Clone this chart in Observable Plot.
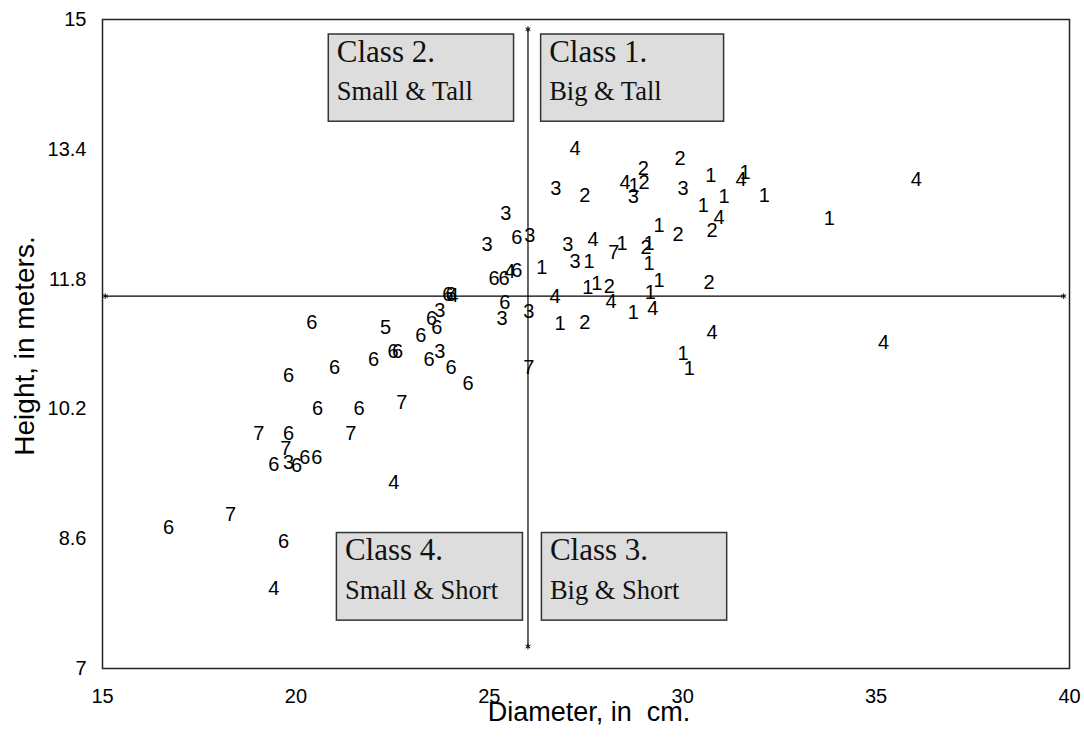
<!DOCTYPE html>
<html>
<head>
<meta charset="utf-8">
<script src="https://cdn.jsdelivr.net/npm/d3@7"></script>
<script src="https://cdn.jsdelivr.net/npm/@observablehq/plot@0.6"></script>
<style>
  html, body { margin: 0; padding: 0; background: #fff; }
  #chart { width: 1084px; height: 742px; }
</style>
</head>
<body>
<div id="chart"></div>
<script>
// Tree class label of each point
const classes = [4,2,2,1,1,4,4,3,2,4,1,2,3,3,1,1,1,1,4,2,1,2,3,6,3,3,3,4,7,1,2,1,3,1,1,1,6,6,4,6,1,2,1,1,2,4,1,4,6,3,3,1,4,1,2,7,4,4,1,1,
  6,6,4,6,5,3,6,6,6,6,6,6,6,3,6,6,6,6,7,6,6,7,6,7,7,6,3,6,6,6,4,7,6,6,4];
// Diameter, cm
const diameters = [27.22,29.93,28.98,30.73,31.61,31.51,36.04,26.72,27.47,28.51,28.74,29.00,28.72,30.01,30.53,31.07,32.11,33.79,30.94,30.76,29.39,29.88,25.43,25.71,26.05,24.94,27.03,27.68,28.22,28.43,29.05,29.13,27.22,27.58,29.13,26.36,25.12,25.38,25.53,25.71,29.39,30.68,27.55,27.78,28.10,26.70,29.16,28.15,25.40,26.02,25.33,28.72,29.23,26.83,27.47,26.02,30.76,35.19,30.01,30.17,
  23.93,24.01,24.06,20.41,22.32,23.72,23.51,23.64,23.23,22.51,22.63,22.01,23.44,23.72,24.01,24.45,21.00,19.81,22.74,20.56,21.63,19.04,19.81,21.42,19.74,19.43,19.81,20.02,20.23,20.54,22.53,18.31,16.71,19.68,19.43];
// Height, m
const heights = [13.41,13.29,13.16,13.08,13.11,13.03,13.03,12.92,12.83,12.99,12.95,12.99,12.82,12.92,12.71,12.82,12.83,12.55,12.56,12.40,12.46,12.35,12.61,12.31,12.34,12.23,12.23,12.29,12.13,12.24,12.19,12.24,12.02,12.02,11.99,11.94,11.81,11.81,11.89,11.91,11.78,11.76,11.70,11.74,11.71,11.58,11.63,11.52,11.51,11.40,11.31,11.39,11.44,11.25,11.26,10.71,11.14,11.02,10.88,10.70,
  11.61,11.61,11.60,11.26,11.20,11.41,11.31,11.20,11.10,10.91,10.91,10.81,10.81,10.91,10.71,10.51,10.71,10.61,10.28,10.20,10.20,9.90,9.90,9.90,9.71,9.51,9.54,9.50,9.60,9.60,9.29,8.90,8.74,8.56,7.98];

// Axis ticks
const xTicks = [15, 20, 25, 30, 35, 40];
const yTicks = [7, 8.6, 10.2, 11.8, 13.4, 15];

// Quadrant dividers (data units)
const heightCut = 11.59;
const heightCutSpan = [15.07, 39.85];
const diameterCut = 26.0;
const diameterCutSpan = [7.27, 14.88];

// Class boxes (data units)
const boxNames = ["Class 2.", "Class 1.", "Class 4.", "Class 3."];
const boxDescs = ["Small & Tall", "Big & Tall", "Small & Short", "Big & Short"];
const boxX1 = [20.85, 26.34, 21.06, 26.36];
const boxX2 = [25.64, 31.07, 25.87, 31.15];
const boxY1 = [13.74, 13.74, 7.59, 7.59];
const boxY2 = [14.815, 14.815, 8.67, 8.67];

const idx = d3.range(classes.length);
const bIdx = d3.range(boxNames.length);
const hLine = heightCutSpan.map(x => ({x, y: heightCut}));
const vLine = diameterCutSpan.map(y => ({x: diameterCut, y}));

const chart = Plot.plot({
  width: 1084,
  height: 742,
  marginLeft: 102,
  marginRight: 15,
  marginTop: 19,
  marginBottom: 74,
  style: {fontFamily: "'Liberation Sans', Arial, sans-serif", fontSize: "20px", color: "#000", background: "#fff"},
  x: {domain: [15, 40]},
  y: {domain: [7, 15]},
  marks: [
    Plot.axisX({ticks: xTicks, tickSize: 0, tickPadding: 20, label: null, fontSize: 20, tickFormat: d => String(d)}),
    Plot.axisY({ticks: yTicks, tickSize: 0, tickPadding: 16, label: null, fontSize: 20, tickFormat: d => String(d)}),
    Plot.frame({stroke: "#222", strokeWidth: 1.5}),
    Plot.line(hLine, {x: "x", y: "y", stroke: "#000", strokeWidth: 1.2}),
    Plot.line(vLine, {x: "x", y: "y", stroke: "#000", strokeWidth: 1.2}),
    Plot.dot([...hLine, ...vLine], {x: "x", y: "y", symbol: "asterisk", r: 2.6, stroke: "#000", strokeWidth: 1}),
    Plot.rect(bIdx, {x1: i => boxX1[i], x2: i => boxX2[i], y1: i => boxY1[i], y2: i => boxY2[i], fill: "#dddddd", stroke: "#333", strokeWidth: 1.5}),
    Plot.text(bIdx, {x: i => boxX1[i], y: i => boxY2[i], text: i => boxNames[i], textAnchor: "start", lineAnchor: "top", dx: 8, dy: 5, fontFamily: "'Liberation Serif', 'Times New Roman', serif", fontSize: 31, fill: "#111"}),
    Plot.text(bIdx, {x: i => boxX1[i], y: i => boxY2[i], text: i => boxDescs[i], textAnchor: "start", lineAnchor: "top", dx: 8, dy: 47, fontFamily: "'Liberation Serif', 'Times New Roman', serif", fontSize: 26.5, fill: "#111"}),
    Plot.text(idx, {x: i => diameters[i], y: i => heights[i], text: i => String(classes[i]), fontSize: 20, fill: "#000"}),
    Plot.text(["Diameter, in\u00a0 cm."], {frameAnchor: "bottom", lineAnchor: "middle", dx: 3, dy: 44, fontSize: 27, fill: "#000"}),
    Plot.text(["Height, in meters."], {frameAnchor: "left", lineAnchor: "middle", textAnchor: "middle", rotate: -90, dx: -77, dy: 2, fontSize: 28, fill: "#000"})
  ]
});
document.getElementById("chart").appendChild(chart);
</script>
</body>
</html>
